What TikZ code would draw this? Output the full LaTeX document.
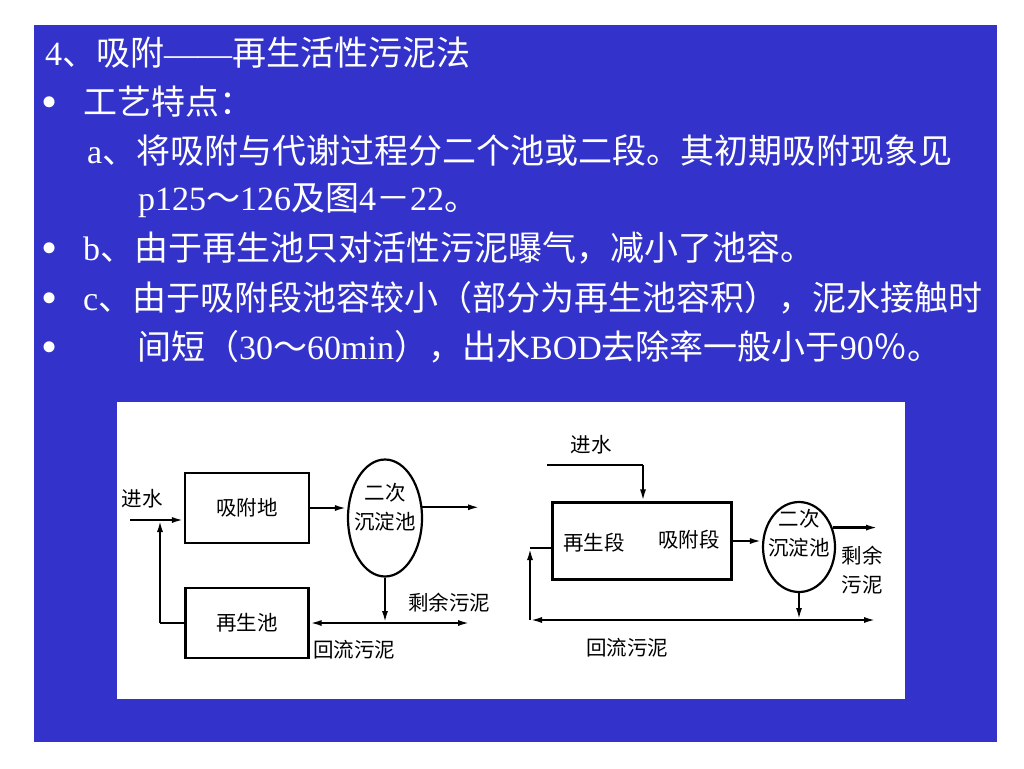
\documentclass[tikz,border=0pt]{standalone}
\usepackage{fontspec}
\setmainfont{Liberation Serif}
\newfontfamily\cjk{Noto Sans CJK SC}
\usetikzlibrary{arrows.meta,shapes.geometric,positioning}
\definecolor{slideblue}{RGB}{51,51,204}
\tikzset{
	line/.style={font=\fontsize{34}{40}\selectfont, text=white, anchor=base west, inner sep=0pt},
	dot/.style={line, anchor=base, font=\fontsize{46}{50}\selectfont},
	box/.style={draw, line width=2.2pt, minimum width=124pt, minimum height=70pt, font=\cjk\fontsize{20.5}{29}\selectfont},
	pool/.style={draw, ellipse, line width=2.2pt, inner sep=0pt},
	lbl/.style={font=\cjk\fontsize{20.5}{29}\selectfont, inner sep=0pt, align=center},
	flow/.style={line width=2.2pt, -{Latex[length=12pt,width=6pt]}},
	pipe/.style={line width=2.2pt}
}
\begin{document}
\begin{tikzpicture}[x=1pt,y=-1pt]
	% Nền
	\useasboundingbox (0,0) rectangle (1024,768);
	\fill[white] (0,0) rectangle (1024,768);
	\fill[slideblue] (34,25) rectangle (997,742);
	
	% Các dòng chữ
	\node[line] (t1) at (45,65) {4{\cjk 、吸附}——{\cjk 再生活性污泥法}};
	\node[line] (t2) at (83,114) {{\cjk 工艺特点：}};
	\node[line] (t3) at (87,163) {a{\cjk 、将吸附与代谢过程分二个池或二段。其初期吸附现象见}};
	\node[line] (t4) at (138,210) {p125{\cjk ～}126{\cjk 及图}4{\cjk －}22{\cjk 。}};
	\node[line] (t5) at (83,260) {b{\cjk 、由于再生池只对活性污泥曝气，减小了池容。}};
	\node[line] (t6) at (83,310) {c{\cjk 、由于吸附段池容较小（部分为再生池容积），泥水接触时}};
	\node[line] (t7) at (137,359) {{\cjk 间短（}30{\cjk ～}60min{\cjk ），出水}BOD{\cjk 去除率一般小于}90{\cjk ％。}};
	\foreach \y/\n in {117/1,263/2,313/3,362/4}{\node[dot] (dot\n) at (50,\y) {•};}
	
	% Hình
	\fill[white] (117,402) rectangle (905,699);
	
	% Sơ đồ trái
	\node[box] (adsL) at (247,508) {吸附地};
	\node[box, minimum width=123pt] (regL) at (247,623) {再生池};
	\node[pool, minimum width=74pt, minimum height=117pt] (setL) at (385,518) {};
	\node[lbl] (setLtxt) at ([yshift=11pt]setL.center) {二次\\沉淀池};
	\node[lbl] (inL) at (142,499) {进水};
	\node[lbl] (wasteL) at (449,603) {剩余污泥};
	\node[lbl] (backL) at (354,650) {回流污泥};
	\coordinate (srcL) at (130,520);
	\coordinate (joinL) at (160,520);
	\coordinate (outL) at (480,508);
	\coordinate (forkL) at (385,623);
	\coordinate (endL) at (470,623);
	\coordinate (turnL) at (160,623);
	\draw[flow] (srcL) -- (srcL -| adsL.west);
	\draw[flow] (adsL.east) -- (adsL.east -| setL.west);
	\draw[flow] (setL.16) -- (setL.16 -| outL);
	\draw[flow] (setL.south) -- (forkL);
	\draw[flow] (forkL) -- (regL.east);
	\draw[flow] (forkL) -- (endL);
	\draw[pipe] (regL.west) -- (turnL);
	\draw[flow] (turnL) -- (joinL);
	
	% Sơ đồ phải
	\node[box, minimum width=179pt, minimum height=77pt] (tankR) at (642,541) {};
	\node[lbl] (regR) at (594,543) {再生段};
	\node[lbl] (adsR) at (689,540) {吸附段};
	\node[pool, minimum width=72pt, minimum height=90pt] (setR) at (799,547) {};
	\node[lbl] (setRtxt) at ([yshift=14pt]setR.center) {二次\\沉淀池};
	\node[lbl] (inR) at (591,445) {进水};
	\node[lbl] (wasteR) at (862,570) {剩余\\污泥};
	\node[lbl] (backR) at (627,648) {回流污泥};
	\coordinate (srcR) at (547,465);
	\coordinate (dropR) at (643,465);
	\coordinate (outR) at (878,528);
	\coordinate (forkR) at (799,620);
	\coordinate (endR) at (876,620);
	\coordinate (cornerR) at (530,620);
	\coordinate (riseR) at (530,548);
	\draw[pipe] (srcR) -- (dropR);
	\draw[flow] (dropR) -- (dropR |- tankR.north);
	\draw[flow] (tankR.east) -- (tankR.east -| setR.west);
	\draw[flow] (setR.30) -- (setR.30 -| outR);
	\draw[flow] (setR.south) -- (forkR);
	\draw[flow] (forkR) -- (cornerR);
	\draw[flow] (forkR) -- (endR);
	\draw[flow] (cornerR) -- (riseR);
	\draw[pipe] (riseR) -- (riseR -| tankR.west);
\end{tikzpicture}
\end{document}
